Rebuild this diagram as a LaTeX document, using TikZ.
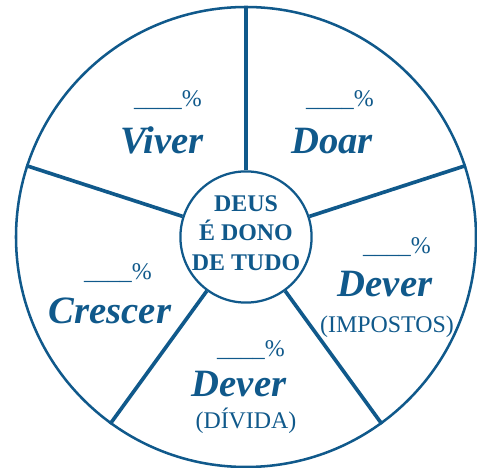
\documentclass[tikz,border=0pt]{standalone}
\usepackage{fontspec}
\setmainfont{Liberation Serif}
\usepackage{tikz}
\usetikzlibrary{positioning}
\definecolor{wBlue}{HTML}{10598B}
\tikzset{
  wheel/.style={
    text=wBlue, line cap=round, line join=round,
  },
  rim/.style={
    draw=wBlue, circle, line width=1.8pt, minimum size=11.5cm,
    inner sep=0pt,
  },
  hub/.style={
    draw=wBlue, circle, line width=1.6pt, minimum size=3.28cm,
    inner sep=0pt, fill=white,
  },
  spoke/.style={draw=wBlue, line width=2.6pt, line cap=butt},
  hubText/.style={
    font=\fontsize{17}{20.9}\selectfont\bfseries, align=center,
    inner sep=0pt,
  },
  pct/.style={font=\fontsize{17}{20}\selectfont, anchor=base, inner sep=0pt},
  part/.style={font=\fontsize{27.5}{32}\selectfont\bfseries\itshape,
    anchor=base, inner sep=0pt},
  note/.style={font=\fontsize{17}{20}\selectfont, anchor=base, inner sep=0pt},
}

\begin{document}
\begin{tikzpicture}[wheel, x=1cm, y=1cm]

% picture frame
\useasboundingbox (-6.15, -5.775) rectangle (5.775, 5.925);

% outer wheel and centre
\node[rim] (rim) at (0, 0) {};
\node[hub] (hub) at (0, 0) {};
\node[hubText] (dono) at (0, 0.10) {DEUS\\É DONO\\DE TUDO};

% five spokes, 72 degrees apart
\foreach \a in {90, 18, -54, -126, 162} {
  \draw[spoke] (hub.\a) -- (rim.\a);
}

% Viver
\node[pct]  (pViver) at (-1.95, 3.25) {\_\_\_\_\%};
\node[part] (viver)  at (-2.10, 2.075) {Viver};

% Doar
\node[pct]  (pDoar) at (2.35, 3.25) {\_\_\_\_\%};
\node[part] (doar)  at (2.15, 2.075) {Doar};

% Dever (impostos)
\node[pct]  (pImp)  at (3.775, -0.425) {\_\_\_\_\%};
\node[part] (devImp) at (3.475, -1.50) {Dever};
\node[note] (imp)   at (3.525, -2.40) {(IMPOSTOS)};

% Dever (divida)
\node[pct]  (pDiv)  at (0.125, -3.00) {\_\_\_\_\%};
\node[part] (devDiv) at (-0.175, -4.00) {Dever};
\node[note] (div)   at (0.00, -4.775) {(DÍVIDA)};

% Crescer
\node[pct]  (pCresc) at (-3.20, -1.075) {\_\_\_\_\%};
\node[part] (cresc)  at (-3.40, -2.175) {Crescer};

\end{tikzpicture}
\end{document}
